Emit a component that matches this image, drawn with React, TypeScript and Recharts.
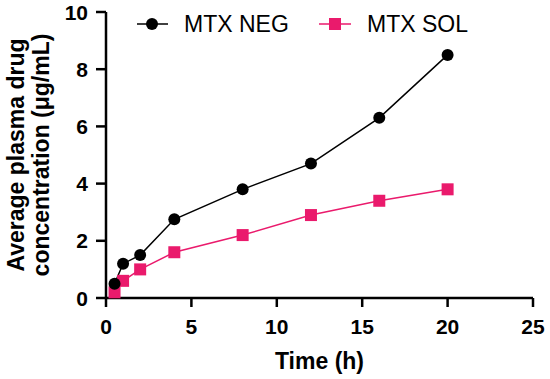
import React from 'react';
import { LineChart, Line, XAxis, YAxis } from 'recharts';

const TIME = [0.5, 1, 2, 4, 8, 12, 16, 20];
const MTX_NEG = [0.5, 1.2, 1.5, 2.75, 3.8, 4.7, 6.3, 8.5];
const MTX_SOL = [0.2, 0.6, 1.0, 1.6, 2.2, 2.9, 3.4, 3.8];
const X_TICKS = [0, 5, 10, 15, 20, 25];
const Y_TICKS = [0, 2, 4, 6, 8, 10];

const PINK = '#EA1A6C';
const FONT = '"Liberation Sans", Arial, sans-serif';
const TICK_STYLE = { fontFamily: FONT, fontWeight: 700, fontSize: 21, fill: '#000' };

const data = TIME.map((t, i) => ({ t, neg: MTX_NEG[i], sol: MTX_SOL[i] }));

const SquareDot = (props: any) => {
  const { cx, cy } = props;
  if (cx == null || cy == null) return null;
  return <rect x={cx - 6} y={cy - 6} width={12} height={12} fill={PINK} />;
};

const XTick = (props: any) => (
  <text x={props.x} y={props.y} dy={15} textAnchor="middle" style={TICK_STYLE}>
    {props.payload.value}
  </text>
);

const YTick = (props: any) => (
  <text x={props.x} y={props.y} dy={7.5} textAnchor="end" style={TICK_STYLE}>
    {props.payload.value}
  </text>
);

const YLabel = (props: any) => {
  const vb = props.viewBox ?? {};
  const cy = (vb.y ?? 12) + (vb.height ?? 286) / 2;
  const style = { fontFamily: FONT, fontWeight: 700, fontSize: 23, fill: '#000' };
  return (
    <g>
      <text x={24} y={cy} transform={`rotate(-90 24 ${cy})`} textAnchor="middle" style={style}>
        Average plasma drug
      </text>
      <text x={49} y={cy} transform={`rotate(-90 49 ${cy})`} textAnchor="middle" style={style}>
        concentration (μg/mL)
      </text>
    </g>
  );
};

const LegendBox = () => (
  <svg width={550} height={45} style={{ position: 'absolute', left: 0, top: 0 }}>
    <g style={{ fontFamily: FONT, fontSize: 23 }}>
      <line x1={137} x2={168} y1={24} y2={24} stroke="#000" strokeWidth={1.5} />
      <circle cx={152} cy={24} r={6} fill="#000" />
      <text x={184} y={32} fill="#000">MTX NEG</text>
      <line x1={319} x2={351} y1={24} y2={24} stroke={PINK} strokeWidth={1.5} />
      <rect x={329} y={18} width={12} height={12} fill={PINK} />
      <text x={367} y={32} fill="#000">MTX SOL</text>
    </g>
  </svg>
);

export default function App() {
  return (
    <div style={{ position: 'absolute', left: 0, top: 0, width: 550, height: 379, background: '#fff' }}>
      <LineChart width={550} height={379} data={data} margin={{ top: 12, right: 17, left: 0, bottom: 0 }}>
        <XAxis
          dataKey="t"
          type="number"
          domain={[0, 25]}
          ticks={X_TICKS}
          height={81}
          tickSize={9}
          tickMargin={12}
          tick={<XTick />}
          axisLine={{ stroke: '#000', strokeWidth: 2.5 }}
          tickLine={{ stroke: '#000', strokeWidth: 2.5 }}
          label={{ value: 'Time (h)', position: 'insideBottom', offset: 10, style: { fontFamily: FONT, fontWeight: 700, fontSize: 23, fill: '#000' } }}
        />
        <YAxis
          type="number"
          domain={[0, 10]}
          ticks={Y_TICKS}
          width={106}
          tickSize={10}
          tickMargin={8}
          tick={<YTick />}
          axisLine={{ stroke: '#000', strokeWidth: 2.5 }}
          tickLine={{ stroke: '#000', strokeWidth: 2.5 }}
          label={<YLabel />}
        />
        <Line
          dataKey="sol"
          stroke={PINK}
          strokeWidth={1.5}
          dot={<SquareDot />}
          activeDot={false}
          isAnimationActive={false}
        />
        <Line
          dataKey="neg"
          stroke="#000"
          strokeWidth={1.5}
          dot={{ r: 6, fill: '#000', stroke: '#000', strokeWidth: 0 }}
          activeDot={false}
          isAnimationActive={false}
        />
      </LineChart>
      <LegendBox />
    </div>
  );
}
